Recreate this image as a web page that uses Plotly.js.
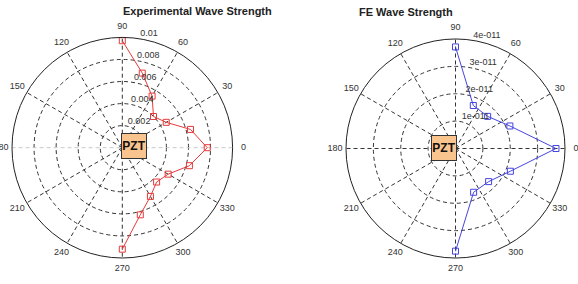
<!DOCTYPE html>
<html>
<head>
<meta charset="utf-8">
<script src="https://cdn.plot.ly/plotly-3.0.1.min.js"></script>
<style>
html,body{margin:0;padding:0;background:#fff;}
#chart{width:578px;height:284px;}
</style>
</head>
<body>
<div id="chart"></div>
<script>
// ---- data ----
const expAngles = [90, 75, 60, 45, 30, 15, 0, -15, -30, -45, -60, -75, -90];
const expValues = [0.0097, 0.0070, 0.0054, 0.0040, 0.0046, 0.0064, 0.0077, 0.0063, 0.0048, 0.0044, 0.0051, 0.0063, 0.0092];
const feAngles = [90, 67.5, 45, 22.5, 0, -22.5, -45, -67.5, -90];
const feValues = [3.71e-11, 1.70e-11, 1.66e-11, 2.15e-11, 3.67e-11, 2.17e-11, 1.71e-11, 1.73e-11, 3.75e-11];
const expRadialTicks = [0.002, 0.004, 0.006, 0.008, 0.01];
const expRadialLabels = ['0.002', '0.004', '0.006', '0.008', '0.01'];
const feRadialTicks = [1e-11, 2e-11, 3e-11, 4e-11];
const feRadialLabels = ['1e-011', '2e-011', '3e-011', '4e-011'];
const angleTicks = [0, 30, 60, 90, 120, 150, 180, 210, 240, 270, 300, 330];
const angleLabels = ['0', '30', '60', '90', '120', '150', '180', '210', '240', '270', '300', '330'];
const expMax = 0.01, feMax = 4e-11;

const FONT = 'Liberation Sans, Arial, Helvetica, sans-serif';
const labelFont = {family: FONT, size: 9, color: '#333'};
const LABEL_R = 1.1; // angular labels sit at 1.1 x outer radius

function labelTraces(sub, labelSub, rTicks, rLabels) {
  return [
    {type: 'scatterpolar', subplot: sub, mode: 'text', r: rTicks, theta: rTicks.map(() => 82),
     text: rLabels.map(s => '\u00a0' + s), textposition: 'top right', textfont: labelFont,
     hoverinfo: 'skip', showlegend: false, cliponaxis: false},
    {type: 'scatterpolar', subplot: labelSub, mode: 'text', r: angleTicks.map(() => LABEL_R), theta: angleTicks,
     text: angleLabels, textposition: 'middle center', textfont: labelFont,
     hoverinfo: 'skip', showlegend: false, cliponaxis: false}
  ];
}

const traces = [
  {type: 'scatterpolar', subplot: 'polar', mode: 'lines', r: [expMax, 0, expMax], theta: [0, 0, 180],
   line: {color: '#c8c8c8', width: 1, dash: '4px,3px'}, hoverinfo: 'skip', showlegend: false},
  {type: 'scatterpolar', subplot: 'polar', mode: 'lines+markers', r: expValues, theta: expAngles,
   line: {color: '#e83a3a', width: 1}, marker: {symbol: 'square-open', size: 6, color: '#e83a3a', line: {width: 1}},
   showlegend: false},
  {type: 'scatterpolar', subplot: 'polar2', mode: 'lines+markers', r: feValues, theta: feAngles,
   line: {color: '#4545e0', width: 1}, marker: {symbol: 'square-open', size: 6, color: '#4545e0', line: {width: 1}},
   showlegend: false},
  ...labelTraces('polar', 'polar3', expRadialTicks, expRadialLabels),
  ...labelTraces('polar2', 'polar4', feRadialTicks, feRadialLabels)
];

function polarCfg(dx, dy, rMax, rTicks, angTicks) {
  return {
    domain: {x: dx, y: dy},
    bgcolor: '#fff',
    radialaxis: {range: [0, rMax], tickvals: rTicks.filter(v => v < rMax), showticklabels: false, ticks: '',
      showline: false, gridcolor: '#333', griddash: '4px,3px', gridwidth: 1, angle: 82},
    angularaxis: {tickvals: angTicks, showticklabels: false, ticks: '', direction: 'counterclockwise', rotation: 0,
      gridcolor: '#333', griddash: '4px,3px', gridwidth: 1, showline: true, linecolor: '#222', linewidth: 1}
  };
}
function labelPolarCfg(cx, cy, rad) {
  const R = rad * LABEL_R;
  return {
    domain: {x: [(cx - R) / W, (cx + R) / W], y: [(cy - R) / H, (cy + R) / H]},
    bgcolor: 'rgba(0,0,0,0)',
    radialaxis: {range: [0, LABEL_R * 1.0001], visible: false, showgrid: false},
    angularaxis: {visible: false, showgrid: false, showline: false, direction: 'counterclockwise', rotation: 0}
  };
}

const W = 578, H = 284;
// polar centres measured from bottom-left (pixels) and outer radius
const c1 = {x: 122.3, y: H - 147.7, r: 110.3};
const c2 = {x: 455.5, y: H - 148.5, r: 109.5};
const layout = {
  width: W, height: H, margin: {l: 0, r: 0, t: 0, b: 0}, paper_bgcolor: '#fff', showlegend: false,
  polar: polarCfg([(c1.x - c1.r) / W, (c1.x + c1.r) / W], [(c1.y - c1.r) / H, (c1.y + c1.r) / H], expMax,
    expRadialTicks, angleTicks.filter(a => a !== 0 && a !== 180)),
  polar2: polarCfg([(c2.x - c2.r) / W, (c2.x + c2.r) / W], [(c2.y - c2.r) / H, (c2.y + c2.r) / H], feMax,
    feRadialTicks, angleTicks),
  polar3: labelPolarCfg(c1.x, c1.y, c1.r),
  polar4: labelPolarCfg(c2.x, c2.y, c2.r),
  annotations: [
    {xref: 'paper', yref: 'paper', x: 120.7 / W, y: (H - 11) / H, yanchor: 'middle', text: '<b>Experimental Wave Strength</b>',
     showarrow: false, font: {family: FONT, size: 11, color: '#222'}},
    {xref: 'paper', yref: 'paper', x: 454.7 / W, y: (H - 12) / H, yanchor: 'middle', text: '<b>FE Wave Strength</b>',
     showarrow: false, font: {family: FONT, size: 11, color: '#222'}},
    {xref: 'paper', yref: 'paper', x: 120.5 / W, y: (H - 146.3) / H, text: '<b>PZT</b>', showarrow: false,
     font: {family: FONT, size: 12, color: '#111'}, bgcolor: '#fac48f', bordercolor: '#333', borderwidth: 1,
     borderpad: 0, width: 24, height: 24},
    {xref: 'paper', yref: 'paper', x: 456.7 / W, y: (H - 148.3) / H, text: '<b>PZT</b>', showarrow: false,
     font: {family: FONT, size: 12, color: '#111'}, bgcolor: '#fac48f', bordercolor: '#333', borderwidth: 1,
     borderpad: 0, width: 24, height: 24}
  ]
};

Plotly.newPlot('chart', traces, layout, {staticPlot: true, displayModeBar: false});
</script>
</body>
</html>
